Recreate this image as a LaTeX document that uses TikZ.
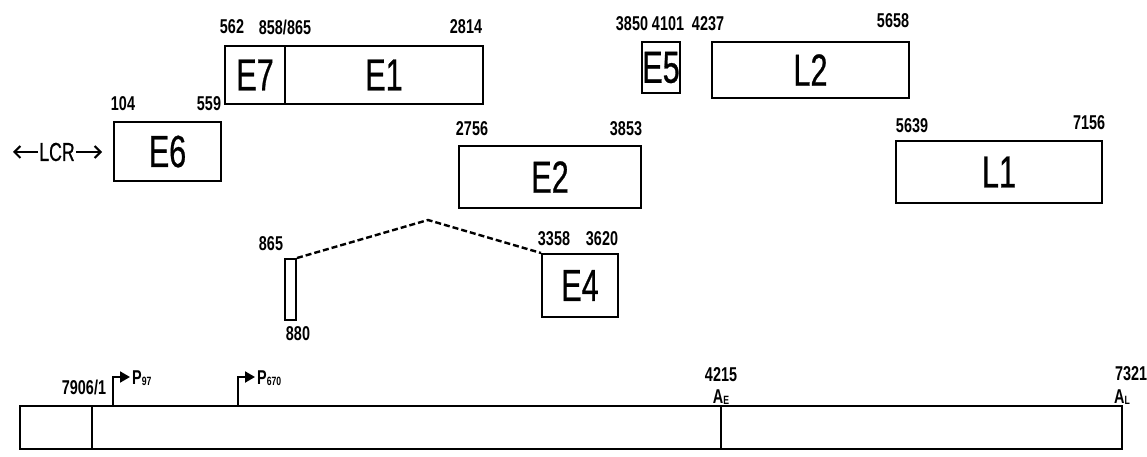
\documentclass[tikz,border=0pt]{standalone}
\usepackage{fontspec}
\newfontfamily\cond[FakeStretch=0.68,FakeBold=0.6]{Liberation Sans}
\newfontfamily\condb[FakeStretch=0.72]{Liberation Sans Bold}
\usetikzlibrary{arrows.meta}
\begin{document}
\begin{tikzpicture}[x=1pt,y=-1pt,
  box/.style={draw, line width=2pt, inner sep=0pt, font=\cond\fontsize{45}{45}\selectfont},
  num/.style={inner sep=0pt, font=\condb\fontsize{20}{20}\selectfont},
  prom/.style={line width=2pt, -{Triangle[length=10pt,width=11pt]}},
  lcr/.style={line width=2pt, -{Straight Barb[length=6pt,width=12pt]}}]
\useasboundingbox (0,0) rectangle (1147,457);
% upper row
\node[box, minimum width=60pt, minimum height=58pt] (E7) at (255,75) {E7};
\node[box, minimum width=198pt, minimum height=58pt] (E1) at (384,75) {E1};
\node[box, minimum width=38pt, minimum height=51pt] (E5) at (661,67.5) {E5};
\node[box, minimum width=197pt, minimum height=56pt] (L2) at (810.5,70) {L2};
\node[num] (n562) at (232,27) {562};
\node[num] (n858) at (285,27) {858/865};
\node[num] (n2814) at (466,27) {2814};
\node[num] (n3850) at (632,24) {3850};
\node[num] (n4101) at (668,24) {4101};
\node[num] (n4237) at (708,24) {4237};
\node[num] (n5658) at (893,21) {5658};
% middle row
\node[box, minimum width=107pt, minimum height=59pt] (E6) at (167.5,151.5) {E6};
\node[box, minimum width=182pt, minimum height=62pt] (E2) at (550,177) {E2};
\node[box, minimum width=206pt, minimum height=62pt] (L1) at (999,172) {L1};
\node[num] (n104) at (123,104) {104};
\node[num] (n559) at (209,104) {559};
\node[num] (n2756) at (472,129) {2756};
\node[num] (n3853) at (626,129) {3853};
\node[num] (n5639) at (912,126) {5639};
\node[num] (n7156) at (1089,123) {7156};
\node[inner sep=1pt, font=\cond\fontsize{26}{26}\selectfont] (LCR) at (57,152) {LCR};
\coordinate (lcrL) at (13,152);
\coordinate (lcrR) at (102,152);
\draw[lcr] (LCR.west) -- (lcrL);
\draw[lcr] (LCR.east) -- (lcrR);
% spliced E4
\node[draw, line width=2pt, inner sep=0pt, minimum width=11pt, minimum height=61pt] (ex) at (290.5,289.5) {};
\node[box, minimum width=76pt, minimum height=63pt] (E4) at (580,285.5) {E4};
\coordinate (peak) at (428,220);
\draw[line width=2.4pt, dash pattern=on 6pt off 3pt] (ex.north east) -- (peak) -- (E4.north west);
\node[num] (n865) at (271,244) {865};
\node[num] (n880) at (298,334) {880};
\node[num] (n3358) at (554,239) {3358};
\node[num] (n3620) at (602,239) {3620};
% genome bar
\node[draw, line width=2pt, inner sep=0pt, minimum width=1102pt, minimum height=43pt] (bar) at (571,427.5) {};
\coordinate (d1t) at (92,406); \coordinate (d1b) at (92,449);
\coordinate (d2t) at (721,406); \coordinate (d2b) at (721,449);
\draw[line width=2pt] (d1t) -- (d1b);
\draw[line width=2pt] (d2t) -- (d2b);
\node[num] (n7906) at (84,387) {7906/1};
\coordinate (p97b) at (113,406); \coordinate (p97e) at (130,377);
\coordinate (p670b) at (238,406); \coordinate (p670e) at (255,377);
\draw[prom] (p97b) |- (p97e);
\draw[prom] (p670b) |- (p670e);
\node[num, anchor=west] (P97) at (132,378) {P\raisebox{-1pt}{\fontsize{12}{12}\selectfont 97}};
\node[num, anchor=west] (P670) at (257,378) {P\raisebox{-1pt}{\fontsize{12}{12}\selectfont 670}};
\node[num] (n4215) at (721,375) {4215};
\node[num] (AE) at (721,397) {A\raisebox{-1pt}{\fontsize{12}{12}\selectfont E}};
\node[num] (n7321) at (1131,374) {7321};
\node[num] (AL) at (1122,397) {A\raisebox{-1pt}{\fontsize{12}{12}\selectfont L}};
\end{tikzpicture}
\end{document}
